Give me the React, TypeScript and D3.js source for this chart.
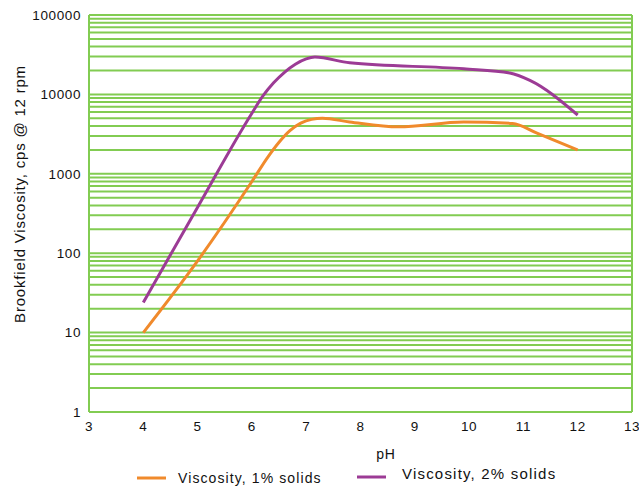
import React from "react";
import * as d3 from "d3";

const xTicks = [3, 4, 5, 6, 7, 8, 9, 10, 11, 12, 13];
const yTicks = [1, 10, 100, 1000, 10000, 100000];

const series1pH = [4, 5, 6, 6.3, 6.5, 6.7, 6.9, 7.1, 7.3, 7.8, 8.7, 9.9, 10.8, 11.25, 12];
const series1Val = [10, 80, 800, 1650, 2500, 3500, 4350, 4850, 5000, 4500, 3900, 4500, 4300, 3250, 2000];

const series2pH = [4, 5, 6, 6.2, 6.4, 6.6, 6.8, 7.0, 7.16, 7.8, 9.9, 10.75, 11.12, 12];
const series2Val = [24, 380, 5800, 9500, 14000, 19000, 24000, 28000, 29500, 25000, 21000, 18600, 15000, 5500];

const legendLabels = ["Viscosity, 1% solids", "Viscosity, 2% solids"];
const colors = ["#f08a2c", "#9c3b95"];
const green = "#82cc52";

export default function App() {
  const W = 639, H = 493;
  const left = 89, right = 632, top = 15, bottom = 412;
  const x = d3.scaleLinear().domain([3, 13]).range([left, right]);
  const y = d3.scaleLog().domain([1, 100000]).range([bottom, top]);

  const grid: number[] = [];
  for (let e = 0; e < 5; e++) {
    for (let m = 1; m <= 10; m++) {
      const v = m * Math.pow(10, e);
      if (m === 10 && e < 4) continue;
      grid.push(v);
    }
  }

  const line = d3
    .line<[number, number]>()
    .x((d) => x(d[0]))
    .y((d) => y(d[1]))
    .curve(d3.curveMonotoneX);

  const d1 = line(series1pH.map((p, i) => [p, series1Val[i]] as [number, number])) || "";
  const d2 = line(series2pH.map((p, i) => [p, series2Val[i]] as [number, number])) || "";

  const font = "'Liberation Sans', Arial, sans-serif";

  return (
    <svg
      width={W}
      height={H}
      style={{ position: "absolute", left: 0, top: 0, background: "#fff" }}
      fontFamily={font}
    >
      {grid.map((v) => (
        <line key={v} x1={left} x2={right} y1={y(v)} y2={y(v)} stroke={green} strokeWidth={2} />
      ))}
      <line x1={left} x2={left} y1={top} y2={bottom} stroke={green} strokeWidth={2} />
      <line x1={right} x2={right} y1={top} y2={bottom} stroke={green} strokeWidth={2} />
      <line x1={left} x2={right} y1={bottom} y2={bottom} stroke={green} strokeWidth={2} />

      <path d={d1} fill="none" stroke={colors[0]} strokeWidth={3} />
      <path d={d2} fill="none" stroke={colors[1]} strokeWidth={3} />

      {yTicks.map((v) => (
        <text key={v} x={left - 8} y={y(v)} dy="0.36em" textAnchor="end" fontSize={13.5} letterSpacing={0.6} fill="#111">
          {v}
        </text>
      ))}
      {xTicks.map((v) => (
        <text key={v} x={x(v)} y={bottom + 19} textAnchor="middle" fontSize={13.5} letterSpacing={0.6} fill="#111">
          {v}
        </text>
      ))}
      <text x={386} y={459} textAnchor="middle" fontSize={14} letterSpacing={0.8} fill="#111">pH</text>
      <text
        transform={`translate(25,194) rotate(-90)`}
        textAnchor="middle"
        fontSize={15}
        letterSpacing={0.8}
        fill="#111"
      >
        Brookfield Viscosity, cps @ 12 rpm
      </text>

      <line x1={137} x2={166} y1={478} y2={478} stroke={colors[0]} strokeWidth={3} />
      <text x={178} y={483} fontSize={14} letterSpacing={1.1} fill="#111">{legendLabels[0]}</text>
      <line x1={357} x2={386} y1={477} y2={477} stroke={colors[1]} strokeWidth={3} />
      <text x={402} y={479} fontSize={15} letterSpacing={1.2} fill="#111">{legendLabels[1]}</text>
    </svg>
  );
}
